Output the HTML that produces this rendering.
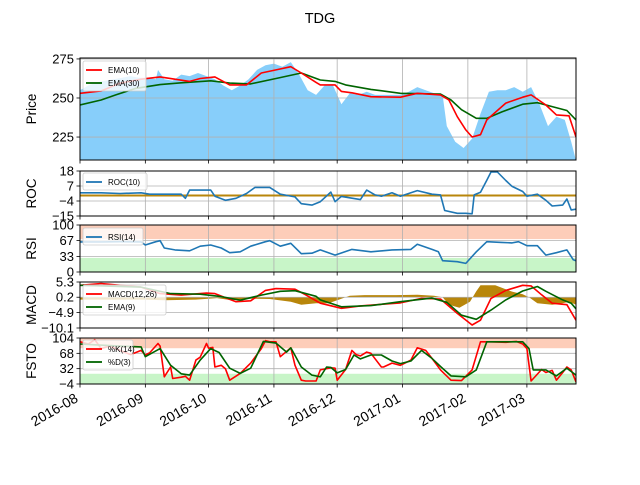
<!DOCTYPE html>
<html><head><meta charset="utf-8"><style>
body{margin:0;background:#fff;}
svg text{font-family:"Liberation Sans","DejaVu Sans",sans-serif;}
</style></head><body>
<svg id="chart" width="640" height="480" viewBox="0 0 640 480" xmlns="http://www.w3.org/2000/svg"></svg>
<script>
// ---- data (days since 2016-08-01) ----
const priceDays=[0,4,8,12,16,20,24,28,32,36,37,40,44,48,52,56,60,64,68,72,76,80,84,88,92,96,100,104,108,112,116,120,124,128,132,136,140,144,148,152,156,160,164,168,172,174,178,182,186,190,194,198,202,206,210,214,218,222,226,230,233,235.3];
const priceVals=[255,258,260,261,262,263,264,263,263,262,268,262,261,265,264,266,264,262,258,255,258,262,268,271,272,270,273,265,255,252,258,258,246,253,252,254,252,252,252,252,254,257,255,253,252,232,222,218,224,240,254,255,255,257,254,257,246,232,238,236,222,210];
const emaDays=[0,10,19,29,38,45,52,57,64,71,79,86,93,100,105,112,114,121,124,129,138,152,160,171,175,179,183,186,190,193,198,202,210,214,221,226,232,235.3];
const ema10Vals=[253,254.5,259.5,262,263.5,262,260.6,262.5,263.5,258.4,258.4,266,268,270,266,260,258.4,258.4,254.2,253.3,250.8,250.5,253,252,248.7,238,229.6,225,226.5,236,242,246.7,250.5,252,245.5,239.2,238.6,225];
const ema30Days=[0,10,17,26,38,48,62,71,81,93,105,114,121,126,138,152,171,176,181,188,193,200,210,217,224,231,235.3];
const ema30Vals=[245.5,248.7,252,256,258.6,259.7,261,259.5,259,262.5,266,261.5,260.6,258.4,255.5,253,252.5,248.7,242.5,237,237,241,246,247,244.5,242,236];
const rocDays=[0,10,19,29,33,40,48,50,52,60,62,64,69,74,79,83,90,95,102,105,110,114,119,121,124,133,136,140,143,148,152,160,167,171,173,179,183,186,187,190,193,195,198,202,205,210,212,217,221,224,229,231,233,235.3];
const rocVals=[2,2,1.5,2,1,1,1,-2,4,4,4,-0.5,-3.5,-2,1.5,6,6,1,-1,-6,-7,-4.5,2.5,-4.5,-0.6,-3,4,0.5,-0.5,2,-0.5,3.6,1,0.5,-11,-13,-13,-13.4,0.5,2.4,11.2,17.3,17.3,11,6.7,3,-0.5,1,-3.5,-7.7,-7,-2.5,-10.5,-10];
const rsiDays=[0,10,19,29,31,36,38,40,45,52,57,62,67,71,76,81,88,90,95,100,105,110,114,121,129,138,148,157,160,167,170,172,179,183,188,193,200,205,208,212,217,221,226,231,234,235.3];
const rsiVals=[64,64,64.5,64,57.4,64.5,66.5,51,47,45,55,57.5,51,41,43,55,64.5,66.5,55,61,39,40,47,36,48,43,47,48,59,48,43,24,22,18.4,43,64.5,63,62,64.5,56,56,36,41,47,26,24];
const macdDays=[0,10,19,29,38,48,60,64,74,81,88,93,102,107,114,124,133,152,162,171,179,186,190,195,202,210,214,219,224,231,235.3];
const macdVals=[4.2,4.8,4.2,3.6,1.4,0.9,1.6,1.4,-1.3,-1.0,2.5,3.1,2.9,1.0,-1.8,-3.5,-2.7,-1.7,-0.2,-0.4,-5.2,-9.1,-7.5,-0.2,2.5,4.2,4.0,1.0,-1.8,-2.3,-7.5];
const signalDays=[0,29,43,57,67,76,86,95,102,112,114,124,138,152,167,174,181,188,195,202,210,217,221,229,233,235.3];
const signalVals=[4.2,3.6,1.4,1.2,0.4,-0.8,0.9,2.2,2.4,0.5,-0.7,-3.0,-2.6,-1.3,-0.1,-1.5,-5.8,-7.2,-4.1,-0.7,2.3,3.8,2.2,-0.7,-1.8,-3.7];
const histDays=[0,30,40,55,65,72,80,90,100,105,112,118,122,128,135,150,160,168,172,175,180,185,188,190,197,205,210,213,217,224,229,232,235.3];
const histVals=[-0.8,-0.8,-1,-0.8,-0.3,-1,-0.5,-0.6,-1.5,-2.5,-2,-2,-1,0.5,0.7,0.7,0.8,0.5,0,-2.5,-3.5,-1.5,2,4,4,1.9,1.0,0,-2,-2.5,-2,-1.5,-2.5];
const kDays=[0,4,7,10,14,19,24,29,31,33,37,38,40,43,44,48,50,52,55,57,60,61,63,64,67,69,71,76,81,86,88,90,93,95,100,102,105,107,112,114,119,121,122,126,129,131,133,136,138,143,144,148,152,157,160,164,167,171,176,181,186,190,195,202,207,210,212,214,219,221,224,226,229,231,233,235.3];
const kVals=[95,90,100,79,85,75,65,75,64,69,91,85,13,36,9,12,14,5,52,59,91,80,82,36,40,32,5,21,45,79,98,95,95,60,81,40,5,3,3,29,34,33,5,30,75,65,62,71,68,36,36,45,40,52,81,75,56,29,5,4,29,95,95,94,96,90,79,3,30,23,28,5,23,36,29,1];
const dDays=[0,7,19,29,31,38,43,48,52,57,62,66,71,76,81,87,93,98,100,105,110,114,117,119,122,126,130,133,138,143,148,152,157,162,167,171,176,183,188,193,202,210,213,215,221,226,231,235.3];
const dVals=[90,88,85,83,60,79,40,20,17,52,79,70,33,21,33,96,92,71,81,36,17,13,36,35,22,30,64,55,64,64,50,44,50,75,56,37,15,13,29,95,95,95,79,29,29,15,33,17];
</script>
<script>
const svg=document.getElementById('chart');
const NS='http://www.w3.org/2000/svg';
const X0=80,X1=576,DMAX=235.3;
const xs=d=>X0+d*(X1-X0)/DMAX;
function mk(tag,attrs,parent){const e=document.createElementNS(NS,tag);for(const k in attrs)e.setAttribute(k,attrs[k]);(parent||svg).appendChild(e);return e;}
const tickDays=[0,31,61,92,122,153,184,212];
const tickLabels=['2016-08','2016-09','2016-10','2016-11','2016-12','2017-01','2017-02','2017-03'];

const panels=[
 {id:'price',label:'Price',top:58,bot:160,min:210.3,max:275.6,ticks:[225,250,275],tl:['225','250','275']},
 {id:'roc',label:'ROC',top:171,bot:216,min:-15,max:18,ticks:[-15,-4,7,18],tl:['\u221215','\u22124','7','18']},
 {id:'rsi',label:'RSI',top:225,bot:272,min:0,max:100,ticks:[0,33,67,100],tl:['0','33','67','100']},
 {id:'macd',label:'MACD',top:282,bot:328,min:-10.1,max:5.3,ticks:[-10.1,-4.9,0.2,5.3],tl:['\u221210.1','\u22124.9','0.2','5.3']},
 {id:'fsto',label:'FSTO',top:338,bot:384,min:-4,max:104,ticks:[-4,32,68,104],tl:['\u22124','32','68','104']}
];
panels.forEach(p=>{p.ys=v=>p.bot-(v-p.min)*(p.bot-p.top)/(p.max-p.min);});
const P={};panels.forEach(p=>P[p.id]=p);

function linePath(days,vals,ys){return days.map((d,i)=>(i?'L':'M')+xs(d).toFixed(1)+','+ys(vals[i]).toFixed(1)).join('');}

const defs=mk('defs',{});
panels.forEach(p=>{
  const cp=mk('clipPath',{id:'clip-'+p.id},defs);
  mk('rect',{x:X0,y:p.top,width:X1-X0,height:p.bot-p.top},cp);
  const g=mk('g',{'clip-path':'url(#clip-'+p.id+')'});
  
  
  p.g=g;
});

function band(p,a,b,col,name){const r=mk('rect',{x:X0,y:p.ys(b),width:X1-X0,height:p.ys(a)-p.ys(b),fill:col},p.g);}
band(P.rsi,70,100,'#fdcdb9','rsi-overbought-band');
band(P.rsi,0,30,'#c8f5c8','rsi-oversold-band');
band(P.fsto,80,104,'#fdcdb9','fsto-overbought-band');
band(P.fsto,-4,20,'#c8f5c8','fsto-oversold-band');

{const p=P.price;let d='M'+xs(priceDays[0])+','+p.bot+linePath(priceDays,priceVals,p.ys).replace('M','L')+'L'+xs(priceDays[priceDays.length-1])+','+p.bot+'Z';
 const e=mk('path',{d:d,fill:'#87cefa'},p.g);}

{const p=P.macd;const z=p.ys(0.2);
 let d='M'+xs(histDays[0])+','+z+histDays.map((dd,i)=>'L'+xs(dd).toFixed(1)+','+p.ys(0.2+histVals[i]).toFixed(1)).join('')+'L'+xs(histDays[histDays.length-1])+','+z+'Z';
 const e=mk('path',{d:d,fill:'#b8860b'},p.g);}

panels.forEach(p=>{
  tickDays.forEach(d=>{mk('line',{x1:xs(d),x2:xs(d),y1:p.top,y2:p.bot,stroke:'#b0b0b0','stroke-width':0.8},p.g);});
  p.ticks.forEach(v=>{mk('line',{x1:X0,x2:X1,y1:p.ys(v),y2:p.ys(v),stroke:'#b0b0b0','stroke-width':0.8},p.g);});
});

{const p=P.roc;const e=mk('line',{x1:X0,x2:X1,y1:p.ys(0),y2:p.ys(0),stroke:'#b8860b','stroke-width':2},p.g);}

function series(p,days,vals,col,name){const e=mk('path',{d:linePath(days,vals,p.ys),fill:'none',stroke:col,'stroke-width':1.6,'stroke-linejoin':'round'},p.g);}
series(P.price,ema30Days,ema30Vals,'#006400','ema30-line');
series(P.price,emaDays,ema10Vals,'#ff0000','ema10-line');
series(P.roc,rocDays,rocVals,'#1f77b4','roc-line');
series(P.rsi,rsiDays,rsiVals,'#1f77b4','rsi-line');
series(P.macd,macdDays,macdVals,'#ff0000','macd-line');
series(P.macd,signalDays,signalVals,'#006400','macd-signal-line');
series(P.fsto,kDays,kVals,'#ff0000','fsto-k-line');
series(P.fsto,dDays,dVals,'#006400','fsto-d-line');

panels.forEach(p=>{
  const f=mk('rect',{x:X0,y:p.top,width:X1-X0,height:p.bot-p.top,fill:'none',stroke:'#000','stroke-width':1});
  
  p.ticks.forEach((v,i)=>{
    mk('line',{x1:X0-3.5,x2:X0,y1:p.ys(v),y2:p.ys(v),stroke:'#000','stroke-width':0.8});
    const t=mk('text',{x:X0-6,y:p.ys(v)+4.5,'text-anchor':'end','font-size':13,fill:'#000'});t.textContent=p.tl[i];
    
  });
  tickDays.forEach(d=>mk('line',{x1:xs(d),x2:xs(d),y1:p.bot,y2:p.bot+3.5,stroke:'#000','stroke-width':0.8}));
  const cy=(p.top+p.bot)/2;
  const l=mk('text',{x:0,y:0,'text-anchor':'middle','font-size':13.5,transform:'translate(36,'+cy+') rotate(-90)'});l.textContent=p.label;
  
});
tickDays.forEach((d,i)=>{
  const t=mk('text',{x:0,y:0,'text-anchor':'end','font-size':14,transform:'translate('+(xs(d)-1)+',401) rotate(-30)'});t.textContent=tickLabels[i];
  
});

function legend(x,y,w,items,name){
  const g=mk('g',{});
  mk('rect',{x:x,y:y,width:w,height:items.length*13+4,rx:2,fill:'#fff','fill-opacity':0.8,stroke:'#ccc','stroke-width':0.8},g);
  items.forEach((it,i)=>{const yy=y+9+i*13;mk('line',{x1:x+3,x2:x+19,y1:yy,y2:yy,stroke:it[1],'stroke-width':1.8},g);
    const t=mk('text',{x:x+25,y:yy+3,'font-size':8,fill:'#000'},g);t.textContent=it[0];});
}
legend(83,61,63,[['EMA(10)','#ff0000'],['EMA(30)','#006400']],'price-legend');
legend(83,173,64,[['ROC(10)','#1f77b4']],'roc-legend');
legend(83,228,60,[['RSI(14)','#1f77b4']],'rsi-legend');
legend(83,285,83,[['MACD(12,26)','#ff0000'],['EMA(9)','#006400']],'macd-legend');
legend(83,340,50,[['%K(14)','#ff0000'],['%D(3)','#006400']],'fsto-legend');

const title=mk('text',{x:320,y:23,'text-anchor':'middle','font-size':14.5});title.textContent='TDG';


</script>
</body></html>
